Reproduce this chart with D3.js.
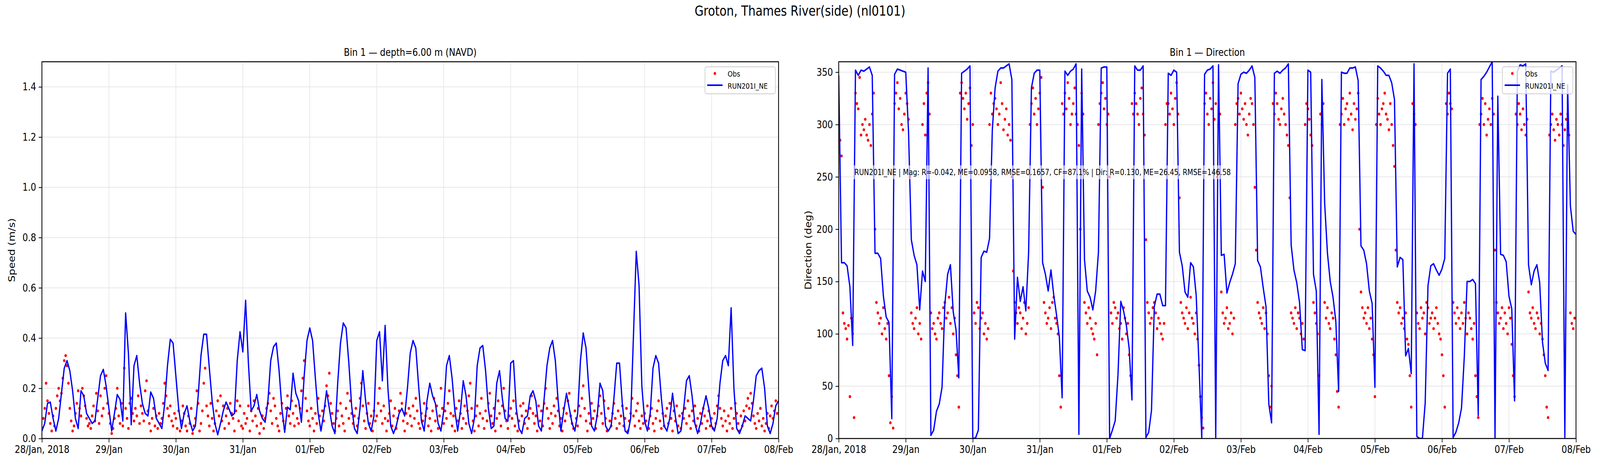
<!DOCTYPE html>
<html>
<head>
<meta charset="utf-8">
<script src="https://cdn.jsdelivr.net/npm/d3@7"></script>
<style>
  html, body { margin: 0; padding: 0; background: #fff; overflow: hidden; width: 100%; height: 100%; }
  #chart { width: 100vw; height: 100vh; }
  svg { display: block; width: 100%; height: 100%; }
  text { font-family: "DejaVu Sans", sans-serif; }
</style>
</head>
<body>
<div id="chart"></div>
<script>
// model: hourly from 28 Jan 2018 00:00, obs: half-hourly
const modelSpeed = [
  .03,.06,.14,.145,.08,.03,.08,.18,.28,.31,.27,.19,.08,.04,.19,.17,.10,.08,.06,.07,.16,.25,.275,.21,
  .12,.03,.10,.175,.155,.07,.50,.34,.055,.29,.33,.22,.14,.10,.09,.185,.16,.08,.06,.04,.14,.29,.395,.38,
  .25,.12,.04,.10,.13,.07,.03,.05,.17,.33,.415,.415,.28,.15,.06,.015,.06,.11,.145,.12,.09,.10,.31,.425,
  .345,.55,.30,.11,.13,.175,.11,.08,.065,.15,.31,.365,.38,.27,.12,.025,.125,.115,.26,.18,.15,.065,.25,.39,
  .44,.39,.24,.10,.03,.10,.19,.12,.05,.02,.22,.38,.46,.44,.30,.13,.04,.02,.12,.27,.15,.06,.03,.09,
  .39,.425,.23,.45,.20,.05,.02,.05,.10,.12,.09,.20,.34,.39,.36,.21,.07,.03,.15,.22,.17,.14,.06,.03,
  .11,.29,.33,.24,.11,.03,.11,.23,.17,.06,.02,.08,.29,.36,.37,.27,.12,.04,.05,.22,.27,.16,.08,.07,
  .30,.31,.12,.04,.02,.08,.09,.17,.19,.15,.05,.03,.16,.29,.36,.39,.31,.15,.03,.11,.18,.12,.06,.03,
  .10,.31,.42,.36,.20,.05,.03,.09,.22,.19,.05,.03,.05,.16,.30,.30,.14,.03,.02,.08,.41,.745,.61,.21,
  .07,.03,.10,.28,.33,.30,.16,.05,.03,.08,.18,.09,.02,.03,.12,.23,.25,.17,.06,.02,.06,.12,.17,.12,
  .05,.03,.08,.22,.31,.33,.29,.52,.20,.04,.02,.05,.09,.08,.07,.15,.25,.27,.28,.20,.05,.02,.06,.13,.15
];
const obsSpeed = [
  .04,.08,.12,.22,.15,.10,.06,.03,.09,.05,.12,.17,.20,.15,.18,.24,.31,.33,.29,.22,.12,.07,.03,.05,.10,.14,.19,.12,.09,.20,.17,.13,.08,.05,.06,.04,.09,.13,.07,.18,.11,.06,.17,.09,.12,.20,.25,.14,
  .10,.06,.02,.04,.08,.12,.20,.09,.06,.14,.05,.28,.12,.08,.04,.14,.16,.10,.07,.12,.09,.17,.06,.13,.10,.07,.19,.23,.11,.06,.03,.08,.12,.05,.09,.04,.10,.06,.08,.14,.22,.17,.12,.09,.13,.07,.05,.10,
  .08,.04,.11,.03,.07,.13,.10,.05,.03,.09,.06,.12,.02,.05,.08,.19,.14,.03,.06,.11,.22,.28,.13,.09,.05,.14,.08,.03,.06,.11,.15,.09,.17,.07,.13,.04,.09,.12,.06,.14,.10,.08,.03,.11,.15,.07,.13,.05,
  .04,.10,.06,.08,.13,.03,.11,.07,.15,.09,.05,.12,.02,.06,.09,.04,.08,.12,.14,.18,.11,.06,.16,.13,.08,.05,.03,.10,.14,.07,.04,.12,.17,.09,.06,.15,.10,.05,.13,.08,.06,.12,.19,.24,.31,.16,.11,.07,
  .05,.12,.08,.03,.10,.06,.16,.09,.04,.11,.07,.13,.21,.17,.26,.14,.10,.06,.03,.08,.11,.05,.14,.09,.06,.03,.12,.18,.08,.15,.10,.06,.09,.12,.05,.08,.16,.22,.13,.07,.04,.10,.14,.06,.09,.03,.11,.07,
  .09,.14,.20,.11,.06,.13,.08,.03,.07,.10,.15,.05,.09,.12,.04,.08,.11,.18,.14,.07,.03,.10,.06,.12,.09,.05,.13,.08,.16,.11,.06,.04,.10,.07,.14,.09,.12,.05,.08,.03,.11,.16,.07,.13,.04,.09,.20,.12,
  .06,.11,.08,.14,.19,.10,.05,.09,.03,.12,.07,.15,.10,.04,.08,.13,.06,.11,.17,.22,.12,.07,.03,.09,.13,.05,.10,.16,.08,.04,.11,.07,.14,.18,.09,.06,.12,.03,.08,.15,.10,.05,.13,.20,.11,.07,.04,.09,
  .12,.08,.15,.05,.10,.03,.07,.13,.09,.14,.06,.11,.04,.08,.12,.17,.10,.06,.09,.03,.13,.07,.11,.05,.14,.20,.12,.08,.04,.10,.06,.13,.09,.16,.11,.05,.08,.03,.12,.07,.10,.15,.18,.09,.06,.04,.11,.08,
  .05,.13,.09,.16,.21,.12,.07,.03,.10,.06,.14,.08,.11,.04,.09,.13,.17,.10,.06,.15,.08,.03,.12,.07,.05,.10,.14,.08,.04,.11,.06,.09,.13,.05,.08,.12,.03,.07,.10,.16,.09,.05,.11,.14,.07,.04,.09,.06,
  .10,.07,.13,.04,.09,.12,.06,.03,.08,.11,.15,.07,.04,.10,.05,.09,.12,.06,.14,.08,.03,.11,.07,.13,.05,.09,.04,.10,.08,.12,.06,.15,.09,.04,.11,.07,.13,.05,.08,.03,.10,.06,.12,.09,.04,.07,.11,.05,
  .08,.04,.10,.06,.13,.17,.12,.08,.05,.11,.07,.03,.09,.06,.12,.04,.08,.14,.10,.06,.03,.09,.05,.11,.07,.13,.16,.12,.18,.14,.09,.06,.04,.10,.07,.12,.05,.08,.03,.06,.10,.04,.09,.13,.08,.11,.15,.10
];
const modelDir = [
  347,168,168,165,145,89,352,347,352,351,353,355,347,177,177,172,136,116,111,19,348,353,352,351,
  350,293,190,175,166,123,160,150,354,3,8,26,33,49,128,157,166,121,104,58,349,351,353,356,
  0,0.5,8,173,179,178,191,295,335,351,354,354,356,358,343,95,154,131,145,122,178,335,349,352,
  352,168,157,141,161,137,118,97,39,351,347,351,353,358,4,353,171,141,135,123,141,178,354,355,
  355,0,8,17,61,131,122,108,86,37,356,352,352,356,1,6,27,126,138,138,127,127,349,347,
  352,350,178,165,140,135,168,164,137,71,0,348,352,353,356,1,357,175,176,139,149,157,167,339,
  348,350,349,352,356,345,170,164,144,126,33,15,349,351,349,352,354,358,185,161,149,130,85,84,
  352,350,157,141,4,343,225,177,150,135,112,45,350,349,349,354,354,355,342,184,180,167,141,129,
  49,356,354,351,347,347,340,324,164,173,171,79,86,62,358,2,0,0,34,146,165,167,161,156,
  162,172,349,353,1,6,15,29,78,150,150,152,148,22,343,346,350,355,360,0,327,176,175,169,
  136,124,36,351,357,356,358,166,147,160,166,149,92,72,65,351,350,352,354,356,1,338,222,198,195
];
const obsDir = [
  300,285,270,120,110,105,95,108,40,115,100,20,
  330,320,315,345,290,300,295,305,290,285,300,280,310,330,
  200,130,120,110,115,100,125,105,95,110,60,15,40,10,
  320,330,340,315,325,300,295,310,330,320,
  305,250,120,110,105,115,125,100,110,95,300,320,290,330,
  340,310,
  120,105,110,100,95,115,120,110,105,125,130,115,120,135,110,125,100,115,80,60,30,330,
  340,325,315,330,305,320,335,280,
  300,120,110,130,125,105,115,120,100,110,95,105,300,330,310,320,
  325,315,300,310,340,320,295,305,315,290,300,285,250,160,
  130,120,110,125,120,105,115,130,100,110,125,300,
  320,335,310,325,300,315,330,345,
  240,130,120,110,115,125,105,130,135,115,110,100,60,30,320,310,
  330,315,340,325,300,310,320,335,310,300,280,200,330,310,
  130,120,110,125,115,105,100,95,110,80,300,320,
  330,340,315,325,300,310,
  250,120,110,130,125,115,120,105,110,95,125,115,100,110,80,60,320,310,
  330,320,310,300,325,335,310,290,
  190,130,120,110,115,125,130,120,105,115,110,100,95,110,300,320,
  320,310,330,315,300,325,340,310,
  230,130,120,115,110,125,105,120,135,115,110,100,120,95,70,40,20,10,
  320,330,310,300,325,315,340,305,320,250,300,310,
  140,120,110,115,125,105,110,120,100,115,300,320,
  325,310,330,315,305,320,300,290,310,325,320,300,240,180,
  130,120,115,110,125,105,120,100,60,30,50,320,
  310,330,320,305,300,315,325,310,300,290,280,230,
  120,115,110,125,105,120,115,100,110,95,300,320,
  315,305,290,280,
  130,120,110,100,60,310,
  300,320,
  130,115,125,110,105,120,115,95,80,45,30,300,
  310,325,300,315,320,305,330,310,295,320,305,315,330,200,
  140,125,115,120,110,125,105,115,95,80,40,300,
  325,310,300,315,320,330,310,305,295,320,300,280,260,180,
  130,120,125,110,115,105,120,95,90,60,30,320,
  310,300,
  120,110,105,125,115,120,100,130,125,110,115,120,105,115,125,110,100,95,80,60,30,320,
  310,330,320,315,
  130,120,110,125,115,105,120,110,130,115,100,120,115,105,95,110,60,40,20,300,
  310,325,300,320,290,305,315,300,325,310,
  180,130,120,110,115,125,105,120,110,100,125,115,90,60,40,310,
  300,320,310,295,315,300,290,305,
  140,120,115,125,110,105,120,115,100,110,95,80,60,30,20,290,
  300,310,295,285,305,300,290,310,300,280,295,305,310,290,
  120,110,105,115
];
const yTicksSpeed = [0, 0.2, 0.4, 0.6, 0.8, 1.0, 1.2, 1.4];
const yTicksDir = [0, 50, 100, 150, 200, 250, 300, 350];
const statsText = 'RUN201I_NE | Mag: R=-0.042, ME=0.0958, RMSE=0.1657, CF=87.1% | Dir: R=0.130, ME=26.45, RMSE=146.58';

const W = 5000, H = 1200;
const t0 = new Date(2018, 0, 28), t1 = new Date(2018, 1, 8);
const hourMs = 3600 * 1000;
const modelTime = i => new Date(t0.getTime() + i * hourMs);
const obsTime = i => new Date(t0.getTime() + i * hourMs / 2);

// scale the whole 5000x1200 drawing to whatever the viewport is
const svg = d3.select('#chart').append('svg')
  .attr('viewBox', `0 0 ${W} ${H}`)
  .attr('preserveAspectRatio', 'none');

svg.append('text')
  .attr('x', W / 2).attr('y', 30)
  .attr('text-anchor', 'middle').attr('dominant-baseline', 'middle')
  .style('font-size', '36px')
  .text('Groton, Thames River(side) (nl0101)');

function panel(opt) {
  const top = 158, bottom = 1122;
  const x = d3.scaleTime().domain([t0, t1]).range([opt.left, opt.right]);
  const y = d3.scaleLinear().domain(opt.yDomain).range([bottom, top]);
  const g = svg.append('g');

  // grid
  g.selectAll('.vg').data(x.ticks(d3.timeDay.every(1))).enter().append('line')
    .attr('x1', d => x(d)).attr('x2', d => x(d)).attr('y1', top).attr('y2', bottom)
    .attr('stroke', '#e6e6e6').attr('stroke-width', 2);
  g.selectAll('.hg').data(opt.yTicks).enter().append('line')
    .attr('x1', opt.left).attr('x2', opt.right).attr('y1', d => y(d)).attr('y2', d => y(d))
    .attr('stroke', '#e6e6e6').attr('stroke-width', 2);

  const clipId = 'clip' + opt.left;
  svg.append('clipPath').attr('id', clipId).append('rect')
    .attr('x', opt.left).attr('y', top).attr('width', opt.right - opt.left).attr('height', bottom - top);
  const plot = g.append('g').attr('clip-path', `url(#${clipId})`);

  plot.selectAll('circle').data(opt.obs).enter().append('circle')
    .attr('cx', (d, i) => x(obsTime(i))).attr('cy', d => y(d))
    .attr('r', 3.8).attr('fill', '#ff0000');

  plot.append('path').datum(opt.model)
    .attr('fill', 'none').attr('stroke', '#0000ff').attr('stroke-width', 4)
    .attr('stroke-linejoin', 'round')
    .attr('d', d3.line().x((d, i) => x(modelTime(i))).y(d => y(d)));

  // axes
  const xAxis = d3.axisBottom(x).ticks(d3.timeDay.every(1)).tickSizeOuter(0).tickSize(10).tickPadding(8)
    .tickFormat((d, i) => i === 0 ? '28/Jan, 2018' : d3.timeFormat('%d/%b')(d));
  const xa = g.append('g').attr('transform', `translate(0,${bottom})`).call(xAxis);
  const yAxis = d3.axisLeft(y).tickValues(opt.yTicks).tickSizeOuter(0).tickSize(10).tickPadding(8)
    .tickFormat(opt.fmt);
  const ya = g.append('g').attr('transform', `translate(${opt.left},0)`).call(yAxis);
  [xa, ya].forEach(a => {
    a.select('.domain').remove();
    a.selectAll('line').attr('stroke', '#000').attr('stroke-width', 2);
    a.selectAll('text').style('font-size', '27px').style('font-family', '"DejaVu Sans", sans-serif').attr('fill', '#000');
  });

  g.append('rect').attr('x', opt.left).attr('y', top)
    .attr('width', opt.right - opt.left).attr('height', bottom - top)
    .attr('fill', 'none').attr('stroke', '#000').attr('stroke-width', 2.5);

  g.append('text').attr('x', (opt.left + opt.right) / 2).attr('y', 143)
    .attr('text-anchor', 'middle').style('font-size', '27px').text(opt.title);

  g.append('text')
    .attr('transform', `translate(${opt.left - 85},${(top + bottom) / 2}) rotate(-90)`)
    .attr('text-anchor', 'middle').style('font-size', '27px').text(opt.yLabel);

  // legend
  const lx = opt.right - 230, ly = 171;
  const lg = g.append('g');
  lg.append('rect').attr('x', lx).attr('y', ly).attr('width', 220).attr('height', 69)
    .attr('rx', 5).attr('fill', 'rgba(255,255,255,0.8)').attr('stroke', '#cccccc').attr('stroke-width', 2);
  lg.append('circle').attr('cx', lx + 31).attr('cy', ly + 17).attr('r', 3.8).attr('fill', '#ff0000');
  lg.append('line').attr('x1', lx + 7).attr('x2', lx + 55).attr('y1', ly + 47).attr('y2', ly + 47)
    .attr('stroke', '#0000ff').attr('stroke-width', 4);
  lg.append('text').attr('x', lx + 71).attr('y', ly + 25).style('font-size', '20px').text('Obs');
  lg.append('text').attr('x', lx + 71).attr('y', ly + 56).style('font-size', '20px').text('RUN201I_NE');
  return { x, y, g };
}

panel({ left: 131, right: 2433, yDomain: [0, 1.5], yTicks: yTicksSpeed, fmt: d3.format('.1f'),
  model: modelSpeed, obs: obsSpeed, title: 'Bin 1 — depth=6.00 m (NAVD)', yLabel: 'Speed (m/s)' });
const p2 = panel({ left: 2621, right: 4925, yDomain: [0, 360], yTicks: yTicksDir, fmt: d3.format('d'),
  model: modelDir, obs: obsDir, title: 'Bin 1 — Direction', yLabel: 'Direction (deg)' });

const st = p2.g.append('g');
const stText = st.append('text').attr('x', 2670).attr('y', p2.y(254)).attr('dominant-baseline', 'middle')
  .style('font-size', '21px').text(statsText);
const bb = stText.node().getBBox();
st.insert('rect', 'text').attr('x', bb.x - 4).attr('y', bb.y - 5).attr('width', bb.width + 8).attr('height', bb.height + 10)
  .attr('fill', 'rgba(255,255,255,0.6)');
</script>
</body>
</html>
